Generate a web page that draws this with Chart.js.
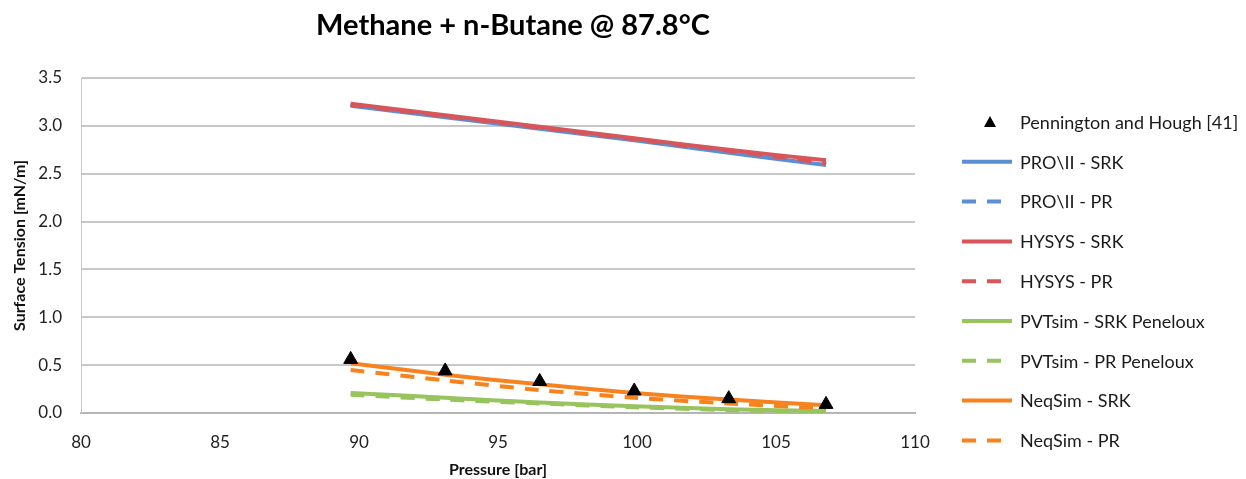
<!DOCTYPE html>
<html>
<head>
<meta charset="utf-8">
<title>Methane + n-Butane @ 87.8°C</title>
<script src="https://cdn.jsdelivr.net/npm/chart.js@4/dist/chart.umd.min.js"></script>
<style>
  html, body { margin: 0; padding: 0; background: #fff; }
  #wrap { position: relative; width: 1246px; height: 479px; }
</style>
</head>
<body>
<div id="wrap"><canvas id="myChart" width="1246" height="479"></canvas></div>
<script>
// pressures [bar]
var pressures = [89.7, 93.1, 96.5, 99.9, 103.3, 106.8];

// surface tension [mN/m]
var pennington = [0.56, 0.44, 0.33, 0.23, 0.15, 0.09];
var proSrk     = [3.21, 3.09, 2.97, 2.85, 2.72, 2.59];
var proPr      = [3.22, 3.10, 2.98, 2.86, 2.74, 2.60];
var hysysSrk   = [3.23, 3.11, 2.99, 2.87, 2.75, 2.64];
var hysysPr    = [3.22, 3.10, 2.98, 2.86, 2.74, 2.61];
var pvtSrk     = [0.21, 0.16, 0.11, 0.07, 0.04, 0.02];
var pvtPr      = [0.19, 0.14, 0.10, 0.06, 0.03, 0.01];
var neqSrk     = [0.52, 0.40, 0.30, 0.21, 0.14, 0.08];
var neqPr      = [0.45, 0.34, 0.24, 0.16, 0.10, 0.05];

var yTicks = [0, 0.5, 1, 1.5, 2, 2.5, 3, 3.5];
var xTicks = [80, 85, 90, 95, 100, 105, 110];

var blue = '#5b8fd4';
var red = '#d8555a';
var green = '#97c45c';
var orange = '#f7821e';
var dash = [14, 11];
var font = 'Lato';

function pts(vals) {
  return vals.map(function (v, i) { return {x: pressures[i], y: v}; });
}

function line(label, vals, color, dashed, order) {
  return {
    type: 'line',
    label: label,
    data: pts(vals),
    borderColor: color,
    backgroundColor: color,
    borderWidth: 4,
    borderDash: dashed ? dash : [],
    pointRadius: 0,
    tension: 0.3,
    order: order
  };
}

var datasets = [
  {
    type: 'scatter',
    label: 'Pennington and Hough [41]',
    data: pts(pennington),
    pointStyle: 'triangle',
    pointRadius: 8,
    backgroundColor: '#000',
    borderColor: '#000',
    borderWidth: 1,
    order: 0
  },
  line('PRO\\II - SRK', proSrk, blue, false, 5),
  line('PRO\\II - PR', proPr, blue, true, 5),
  line('HYSYS - SRK', hysysSrk, red, false, 4),
  line('HYSYS - PR', hysysPr, red, true, 4),
  line('PVTsim - SRK Peneloux', pvtSrk, green, false, 3),
  line('PVTsim - PR Peneloux', pvtPr, green, true, 3),
  line('NeqSim - SRK', neqSrk, orange, false, 2),
  line('NeqSim - PR', neqPr, orange, true, 2)
];

// title and legend drawn on the canvas beside the plot
var sidePlugin = {
  id: 'side',
  afterDraw: function (chart) {
    var ctx = chart.ctx;
    ctx.save();
    ctx.fillStyle = '#000';
    ctx.font = 'bold 29px ' + font;
    ctx.textAlign = 'center';
    ctx.textBaseline = 'middle';
    ctx.fillText('Methane + n-Butane @ 87.8°C', 513, 26);

    ctx.font = '18px ' + font;
    ctx.textAlign = 'left';
    chart.data.datasets.forEach(function (ds, i) {
      var y = 122 + i * 39.8;
      if (ds.type === 'scatter') {
        ctx.beginPath();
        ctx.moveTo(990, y - 6);
        ctx.lineTo(996, y + 5);
        ctx.lineTo(984, y + 5);
        ctx.closePath();
        ctx.fillStyle = '#000';
        ctx.fill();
      } else {
        ctx.beginPath();
        ctx.setLineDash(ds.borderDash);
        ctx.strokeStyle = ds.borderColor;
        ctx.lineWidth = 4;
        ctx.moveTo(962, y);
        ctx.lineTo(1012, y);
        ctx.stroke();
        ctx.setLineDash([]);
      }
      ctx.fillStyle = '#1a1a1a';
      ctx.fillText(ds.label, 1020, y + 1);
    });
    ctx.restore();
  }
};

var ctx = document.getElementById('myChart').getContext('2d');
var myChart = new Chart(ctx, {
  data: { datasets: datasets },
  options: {
    responsive: false,
    animation: false,
    layout: { padding: { top: 78, right: 331, left: 0, bottom: 0 } },
    plugins: {
      legend: { display: false },
      title: { display: false },
      tooltip: { enabled: false }
    },
    scales: {
      x: {
        type: 'linear',
        min: 80,
        max: 110,
        afterFit: function (s) { s.height = 66; },
        afterBuildTicks: function (s) { s.ticks = xTicks.map(function (v) { return {value: v}; }); },
        grid: { display: false, drawTicks: false },
        border: { color: '#b5b5b5', width: 2 },
        ticks: {
          color: '#222',
          font: { family: font, size: 17 },
          padding: 19
        },
        title: {
          display: true,
          text: 'Pressure [bar]',
          color: '#111',
          font: { family: font, size: 16, weight: 'bold' },
          padding: { top: 6, bottom: 0 }
        }
      },
      y: {
        type: 'linear',
        min: 0,
        max: 3.5,
        afterFit: function (s) { s.width = 81; },
        afterBuildTicks: function (s) { s.ticks = yTicks.map(function (v) { return {value: v}; }); },
        grid: { color: '#c8c8c8', lineWidth: 2, drawTicks: false },
        border: { color: '#c8c8c8', width: 1 },
        ticks: {
          color: '#222',
          font: { family: font, size: 17 },
          padding: 19,
          callback: function (v) { return v.toFixed(1); }
        },
        title: {
          display: true,
          text: 'Surface Tension [mN/m]',
          color: '#111',
          font: { family: font, size: 16, weight: 'bold' },
          padding: { top: 10, bottom: 0 }
        }
      }
    }
  },
  plugins: [sidePlugin]
});
</script>
</body>
</html>
